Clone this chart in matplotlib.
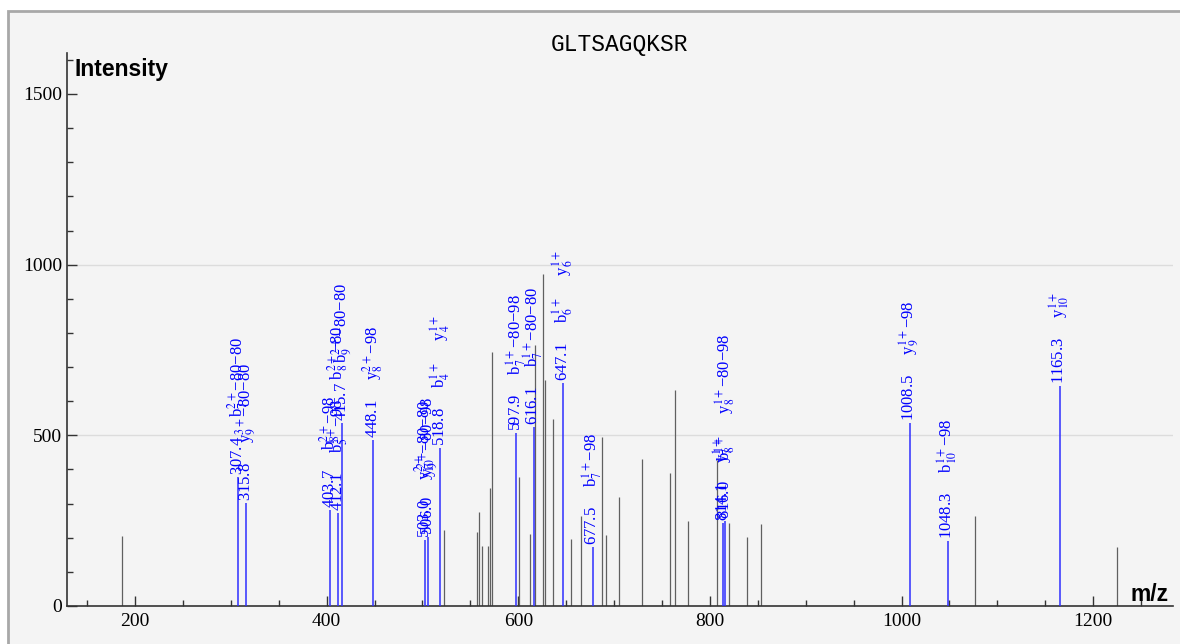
import matplotlib
matplotlib.use("Agg")
import matplotlib.pyplot as plt
import matplotlib.transforms as mtransforms
from matplotlib.patches import Rectangle
from matplotlib.ticker import MultipleLocator

plt.rcParams['mathtext.fontset'] = 'stix'

peptide = "GLTSAGQKSR"

# peaks without annotation (grey)
other_mz = [186.4, 522.7, 556.5, 558.6, 562.4, 568.3, 570.7, 572.1, 600.5, 612.4,
            617.3, 625.3, 628.0, 635.8, 655.2, 665.6, 687.2, 691.7, 704.6, 728.6,
            758.0, 763.4, 777.3, 807.9, 820.0, 839.0, 852.8, 1077.0, 1224.5]
other_int = [205, 222, 216, 274, 176, 176, 345, 745, 377, 211,
             765, 972, 662, 547, 197, 264, 496, 208, 318, 430,
             391, 633, 250, 428, 242, 201, 239, 264, 172]

# annotated fragment peaks (blue)
frag_mz = [307.4, 315.8, 403.7, 412.1, 415.7, 448.1, 503.0, 506.0, 518.8, 597.9,
           616.1, 647.1, 677.5, 814.1, 816.0, 1008.5, 1048.3, 1165.3]
frag_int = [379, 301, 281, 273, 536, 486, 193, 202, 463, 508,
            523, 652, 174, 243, 250, 537, 191, 644]
frag_ions = [
    ["b$_7^{2+}$−80−80"],
    ["y$_9^{3+}$−80−80"],
    ["b$_8^{2+}$−98"],
    ["b$_5^{1+}$−98", "b$_8^{2+}$−80"],
    ["b$_9^{2+}$−80−80"],
    ["y$_8^{2+}$−98"],
    ["y$_{10}^{2+}$−80−80"],
    ["y$_9^{2+}$−80−98"],
    ["b$_4^{1+}$", "y$_4^{1+}$"],
    ["b$_7^{1+}$−80−98"],
    ["b$_7^{1+}$−80−80"],
    ["b$_6^{1+}$", "y$_6^{1+}$"],
    ["b$_7^{1+}$−98"],
    ["y$_7^{1+}$"],
    ["b$_8^{1+}$", "y$_8^{1+}$−80−98"],
    ["y$_9^{1+}$−98"],
    ["b$_{10}^{1+}$−98"],
    ["y$_{10}^{1+}$"],
]

grid_levels = [500, 1000]

W, H = 1180, 644
fig = plt.figure(figsize=(W / 100, H / 100), dpi=100, facecolor='white')
fig.add_artist(Rectangle((8 / W, -0.05), 1.2, 1 - 11 / H + 0.05, transform=fig.transFigure,
                         facecolor='#f4f4f4', edgecolor='#a8a8a8', lw=2, zorder=0))

ax = fig.add_axes([67 / W, 38 / H, (1172.7 - 67) / W, (606 - 53) / H])
ax.set_facecolor('none')
ax.set_xlim(129, 1283)
ax.set_ylim(0, 1620)

for g in grid_levels:
    ax.axhline(g, color='#dcdcdc', lw=1, zorder=0)

ax.vlines(other_mz, 0, other_int, colors='#606060', lw=0.9, zorder=2)
ax.vlines(frag_mz, 0, frag_int, colors='#2e2eff', lw=1.1, zorder=3)

gap = "     "
lab_tr = mtransforms.offset_copy(ax.transData, fig=fig, x=4.5, y=2, units='dots')
for mz, h, ions in zip(frag_mz, frag_int, frag_ions):
    ax.text(mz, h, f"{mz:.1f}" + gap + gap.join(ions), transform=lab_tr,
            rotation=90, rotation_mode='anchor', ha='left', va='baseline',
            color='blue', fontsize=12, family='Liberation Serif', zorder=4)

for s in ['top', 'right']:
    ax.spines[s].set_visible(False)
for s in ['left', 'bottom']:
    ax.spines[s].set_color('#333333')
    ax.spines[s].set_linewidth(1.2)

ax.xaxis.set_major_locator(MultipleLocator(200))
ax.xaxis.set_minor_locator(MultipleLocator(50))
ax.yaxis.set_major_locator(MultipleLocator(500))
ax.yaxis.set_minor_locator(MultipleLocator(100))
ax.tick_params(which='major', direction='in', length=7.2, width=1, color='#333333', labelsize=14)
ax.tick_params(which='minor', direction='in', length=4.3, width=1, color='#333333')
ax.tick_params(axis='x', which='major', pad=5)
ax.tick_params(axis='y', which='major', pad=3.6)
for lab in ax.get_xticklabels() + ax.get_yticklabels():
    lab.set_family('Liberation Serif')

fig.text(620 / W, 1 - 44 / H, peptide, family='Liberation Mono', fontsize=16.5,
         ha='center', va='center')
fig.text(75 / W, 1 - 76 / H, "Intensity", family='Liberation Sans', fontweight='bold',
         fontsize=16.5, va='baseline')
fig.text(1131 / W, 1 - 601 / H, "m/z", family='Liberation Sans', fontweight='bold',
         fontsize=16.5, va='baseline')

fig.savefig('out.png', dpi=100)
